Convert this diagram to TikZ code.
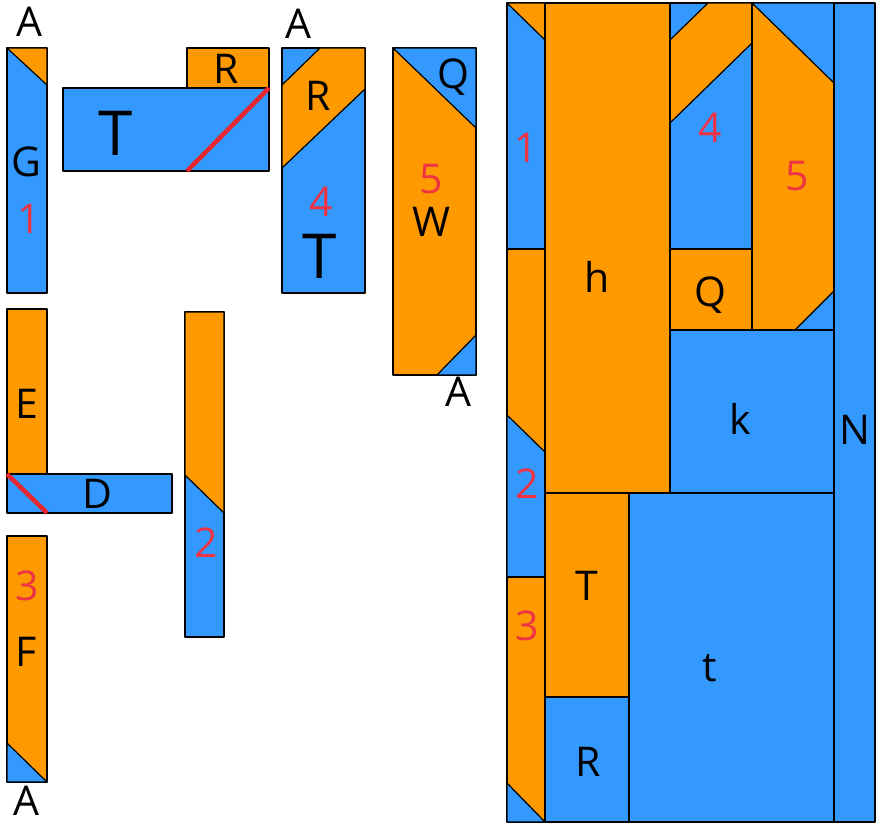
\documentclass[tikz,border=0pt]{standalone}
\usepackage{fontspec}
\setmainfont{Open Sans}
\definecolor{pcorange}{HTML}{FF9900}
\definecolor{pcblue}{HTML}{3399FF}
\definecolor{numred}{HTML}{EE3344}
\definecolor{cutred}{HTML}{E8262E}
\begin{document}
\begin{tikzpicture}[x=1pt,y=-1pt,line width=1.2pt,line join=round,
  every node/.style={font=\fontsize{41}{44}\selectfont,inner sep=0pt},
  og/.style={fill=pcorange,draw=black},
  bl/.style={fill=pcblue,draw=black},
  num/.style={text=numred},
  big/.style={font=\fontsize{62}{64}\selectfont},
  cut/.style={draw=cutred,line width=4.5pt}]
\useasboundingbox (0,0) rectangle (882,824);
% loose pieces, top row
\draw[bl] (7,48) rectangle (47,293);
\draw[og] (7,48) -- (47,48) -- (47,85) -- cycle;
\draw[og] (187,48) rectangle (269,88);
\draw[bl] (63,88) rectangle (269,171);
\draw[cut] (187,171) -- (269,88);
\draw[bl] (282,48) rectangle (365,293);
\draw[og] (320,48) -- (365,48) -- (365,89) -- (282,168) -- (282,85) -- cycle;
\draw[og] (393,48) rectangle (476,375);
\draw[bl] (393,48) -- (476,48) -- (476,128) -- cycle;
\draw[bl] (437,375) -- (476,335) -- (476,375) -- cycle;
% loose pieces, lower left
\draw[og] (7,309) rectangle (47,474);
\draw[bl] (7,474) rectangle (172,513);
\draw[cut] (7,474) -- (47,513);
\draw[og] (7,536) rectangle (47,782);
\draw[bl] (7,743) -- (47,782) -- (7,782) -- cycle;
\draw[bl] (185,312) rectangle (224,637);
\draw[og] (185,312) -- (224,312) -- (224,513) -- (185,475) -- cycle;
% assembled block
\draw[bl] (507,3) rectangle (545,249);
\draw[og] (507,3) -- (545,3) -- (545,40) -- cycle;
\draw[og] (507,249) rectangle (545,577);
\draw[bl] (507,415) -- (545,452) -- (545,577) -- (507,577) -- cycle;
\draw[og] (507,577) rectangle (545,822);
\draw[bl] (507,783) -- (545,822) -- (507,822) -- cycle;
\draw[bl] (670,3) rectangle (752,249);
\draw[og] (708,3) -- (752,3) -- (752,43) -- (670,123) -- (670,40) -- cycle;
\draw[og] (752,3) rectangle (834,330);
\draw[bl] (752,3) -- (834,3) -- (834,83) -- cycle;
\draw[bl] (795,330) -- (834,291) -- (834,330) -- cycle;
\foreach \xa/\ya/\xb/\yb/\c in {545/3/670/493/og, 670/249/752/330/og,
  670/330/834/493/bl, 545/493/629/697/og, 545/697/629/822/bl,
  629/493/834/822/bl, 834/3/875/822/bl}
  \draw[\c] (\xa,\ya) rectangle (\xb,\yb);
% letters
\foreach \n/\p/\t in {aG/{29,22}/A, aR/{298,24}/A, aW/{458,392}/A, aF/{26,801}/A,
  gG/{26,162}/G, rT/{226,69}/R, rR/{318,96}/R, qW/{453,77}/Q, wW/{431,222}/W,
  eE/{27,404}/E, dD/{97,494}/D, fF/{26,652}/F,
  hB/{597,277}/h, qB/{710,295}/Q, kB/{740,419}/k, nB/{855,430}/N,
  tB/{587,586}/T, sB/{710,668}/t, rB/{588,762}/R}
  \node (\n) at (\p) {\t};
\node[big] (tT) at (116,133) {T};
\node[big] (tR) at (320,256) {T};
% numbers
\foreach \n/\p/\t in {oneG/{29,219}/1, fourR/{321,202}/4, fiveW/{431,179}/5,
  threeF/{27,586}/3, twoS/{206,543}/2,
  oneB/{526,148}/1, twoB/{527,484}/2, threeB/{527,626}/3,
  fourB/{710,128}/4, fiveB/{797,176}/5}
  \node[num] (\n) at (\p) {\t};
\end{tikzpicture}
\end{document}
